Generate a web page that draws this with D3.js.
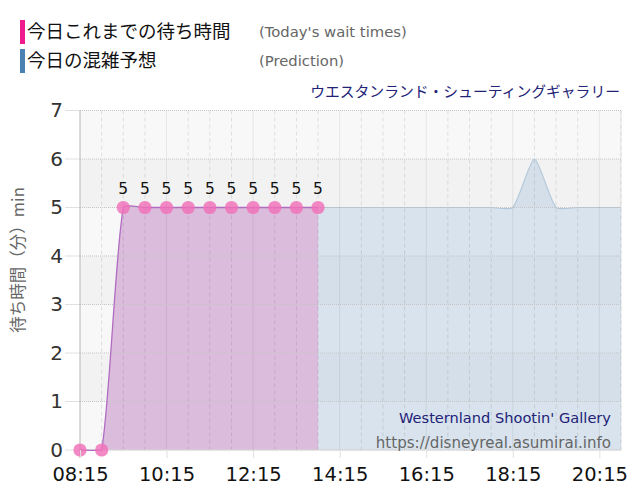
<!DOCTYPE html>
<html><head><meta charset="utf-8">
<script src="https://cdn.jsdelivr.net/npm/d3@7"></script>
<style>
html,body{margin:0;padding:0;background:#fff;}
svg{display:block;}
</style></head>
<body>
<svg id="chart" width="640" height="500"></svg>
<script>
// ---- data ----
const waitTimes = ["08:15","08:45","09:15","09:45","10:15","10:45","11:15","11:45","12:15","12:45","13:15","13:45"];
const waitValues = [0,0,5,5,5,5,5,5,5,5,5,5];
const predTimes = ["09:15","09:45","10:15","10:45","11:15","11:45","12:15","12:45","13:15","13:45","14:15","14:45","15:15","15:45","16:15","16:45","17:15","17:45","18:15","18:45","19:15","19:45","20:15","20:45"];
const predValues = [5,5,5,5,5,5,5,5,5,5,5,5,5,5,5,5,5,5,5,6,5,5,5,5];
const xTickLabels = ["08:15","10:15","12:15","14:15","16:15","18:15","20:15"];
const yTickValues = [0,1,2,3,4,5,6,7];
const titleText = "ウエスタンランド・シューティングギャラリー";
const legendItems = [
  {jp:"今日これまでの待ち時間", en:"(Today's wait times)", color:"#ee1a8e"},
  {jp:"今日の混雑予想", en:"(Prediction)", color:"#4a80b2"}
];
const yAxisTitle = "待ち時間（分）min";
const watermark1 = "Westernland Shootin' Gallery";
const watermark2 = "https://disneyreal.asumirai.info";

const toMin = s => { const [h,m] = s.split(":").map(Number); return h*60+m; };
const wait = waitTimes.map((t,i)=>({x:toMin(t), y:waitValues[i]}));
const pred = predTimes.map((t,i)=>({x:toMin(t), y:predValues[i]}));

const svg = d3.select("#chart");
const L = 80, R = 621, T = 110.5, B = 450;
const x = d3.scaleLinear().domain([toMin("08:15"), toMin("20:45")]).range([L, R]);
const y = d3.scaleLinear().domain([0,7]).range([B, T]);

const JP = "'Noto Sans CJK JP', sans-serif";
const LAT = "'DejaVu Sans', Verdana, sans-serif";

// spline (distance weighted) built from scaled points
function splinePath(data, closeToBase) {
  const pts = data.map(d=>[x(d.x), y(d.y)]);
  const t = 0.2, n = pts.length;
  const cps = pts.map((p,i)=>{
    const prev = pts[Math.max(0,i-1)], next = pts[Math.min(n-1,i+1)];
    const d01 = Math.hypot(p[0]-prev[0], p[1]-prev[1]);
    const d12 = Math.hypot(next[0]-p[0], next[1]-p[1]);
    let s01 = d01/(d01+d12) || 0, s12 = d12/(d01+d12) || 0;
    const fa = t*s01, fb = t*s12;
    const cap = v => Math.max(T, Math.min(B+1, v));
    return {
      prev:[p[0]-fa*(next[0]-prev[0]), cap(p[1]-fa*(next[1]-prev[1]))],
      next:[p[0]+fb*(next[0]-prev[0]), cap(p[1]+fb*(next[1]-prev[1]))]
    };
  });
  const path = d3.path();
  path.moveTo(pts[0][0], pts[0][1]);
  for (let i=1;i<n;i++){
    const a = cps[i-1].next, b = cps[i].prev;
    path.bezierCurveTo(a[0],a[1],b[0],b[1],pts[i][0],pts[i][1]);
  }
  if (closeToBase) {
    path.lineTo(pts[n-1][0], y(0));
    path.lineTo(pts[0][0], y(0));
    path.closePath();
  }
  return path.toString();
}

// legend
legendItems.forEach((d,i)=>{
  const cy = 32 + i*29;
  svg.append("rect").attr("x",20).attr("y",cy-12).attr("width",5).attr("height",24).attr("fill",d.color);
  svg.append("text").attr("x",27).attr("y",cy).attr("dy","0.35em")
    .attr("font-family",JP).attr("font-size",18.5).attr("fill","#111").text(d.jp);
  svg.append("text").attr("x",259).attr("y",cy).attr("dy","0.35em")
    .attr("font-family",LAT).attr("font-size",14.8).attr("fill","#666").text(d.en);
});

// title
svg.append("text").attr("x",620).attr("y",92).attr("dy","0.35em").attr("text-anchor","end")
  .attr("font-family",JP).attr("font-size",14.8).attr("fill","#222277").text(titleText);

// bands
for (let v=0; v<7; v++) {
  svg.append("rect").attr("x",L).attr("width",R-L)
    .attr("y",y(v+1)).attr("height",y(v)-y(v+1))
    .attr("fill", v%2===0 ? "#f8f8f8" : "#f2f2f2");
}

const gridMins = d3.range(toMin("08:45"), toMin("20:45")+1, 30);
const labelMins = xTickLabels.map(toMin);

// areas
svg.append("path").attr("d", splinePath(pred, true)).attr("fill","rgba(172,198,222,0.42)");
svg.append("path").attr("d", splinePath(pred, false))
  .attr("fill","none").attr("stroke","#b3c7db").attr("stroke-width",1.2);
svg.append("path").attr("d", splinePath(wait, true)).attr("fill","#dcbcdc");

// vertical grid
gridMins.forEach(m=>{
  const isLab = labelMins.includes(m);
  svg.append("line").attr("x1",x(m)).attr("x2",x(m)).attr("y1",T).attr("y2",B)
    .attr("stroke", isLab ? "rgba(0,0,0,0.07)" : "rgba(0,0,0,0.1)").attr("stroke-width",1)
    .attr("stroke-dasharray", isLab ? null : "4,3");
});

// horizontal grid lines
yTickValues.forEach(v=>{
  svg.append("line").attr("x1",L).attr("x2",R).attr("y1",y(v)).attr("y2",y(v))
    .attr("stroke","#c4c4c4").attr("stroke-width",1).attr("stroke-dasharray","1,1");
  svg.append("line").attr("x1",65).attr("x2",L).attr("y1",y(v)).attr("y2",y(v))
    .attr("stroke","#e0e0e0").attr("stroke-width",1);
});
// right border
svg.append("line").attr("x1",R).attr("x2",R).attr("y1",T).attr("y2",B)
  .attr("stroke","#cfcfcf").attr("stroke-dasharray","1,1");
// left axis line
svg.append("line").attr("x1",L).attr("x2",L).attr("y1",T).attr("y2",B+8)
  .attr("stroke","#b5b5b5").attr("stroke-width",1);
// bottom axis line
svg.append("line").attr("x1",L).attr("x2",R).attr("y1",B).attr("y2",B)
  .attr("stroke","#d8d8d8").attr("stroke-width",1);

// wait line
svg.append("path").attr("d", splinePath(wait, false))
  .attr("fill","none").attr("stroke","#b06cc0").attr("stroke-width",1.3);

// points
svg.append("g").selectAll("circle").data(wait).join("circle")
  .attr("cx",d=>x(d.x)).attr("cy",d=>y(d.y)).attr("r",6.6)
  .attr("fill","#f070b8").attr("fill-opacity",0.82);

// data labels
svg.append("g").selectAll("text").data(wait.filter(d=>d.y>0)).join("text")
  .attr("x",d=>x(d.x)).attr("y",d=>y(d.y)-19).attr("dy","0.35em").attr("text-anchor","middle")
  .attr("font-family",LAT).attr("font-size",15.5).attr("fill","#111").text(d=>d.y);

// x axis
const xAxis = d3.axisBottom(x).tickValues(labelMins).tickSize(8)
  .tickFormat((d,i)=>xTickLabels[i]);
const xg = svg.append("g").attr("transform",`translate(0,${B})`).call(xAxis);
xg.select(".domain").remove();
xg.selectAll(".tick line").attr("stroke","#e0e0e0");
xg.selectAll(".tick text").attr("font-family",LAT).attr("font-size",19.5).attr("fill","#111").attr("dy","1.0em");

// y axis labels
const yAxis = d3.axisLeft(y).tickValues(yTickValues).tickSize(0).tickPadding(0).tickFormat(d3.format("d"));
const yg = svg.append("g").attr("transform",`translate(63,0)`).call(yAxis);
yg.select(".domain").remove();
yg.selectAll(".tick text").attr("font-family",LAT).attr("font-size",20).attr("fill","#333");

// y axis title
svg.append("text").attr("transform","translate(18,260) rotate(-90)").attr("text-anchor","middle")
  .attr("dy","0.35em").attr("font-family",JP).attr("font-size",16.5).attr("fill","#666").text(yAxisTitle);

// watermark
svg.append("text").attr("x",611).attr("y",418).attr("dy","0.35em").attr("text-anchor","end")
  .attr("font-family",LAT).attr("font-size",14.6).attr("fill","#222277").text(watermark1);
svg.append("text").attr("x",611).attr("y",443).attr("dy","0.35em").attr("text-anchor","end")
  .attr("font-family",LAT).attr("font-size",15.1).attr("fill","#666").text(watermark2);
</script>
</body></html>
